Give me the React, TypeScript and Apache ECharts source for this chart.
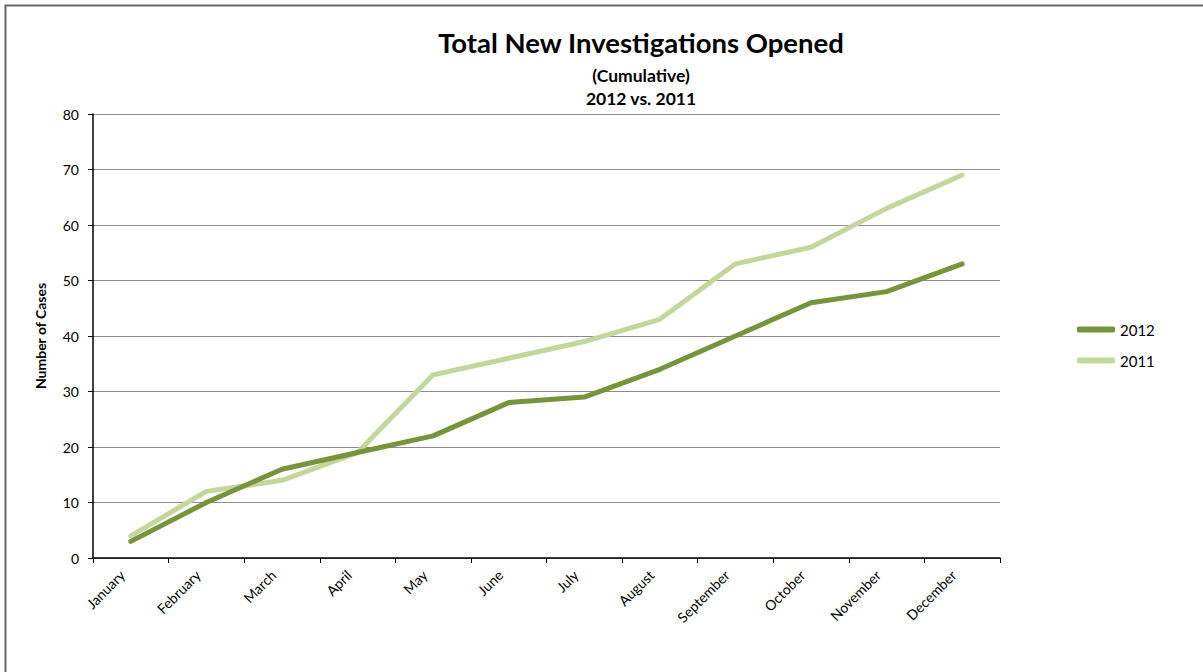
import React, { useEffect, useRef } from "react";
import * as echarts from "echarts";

const categories = [
  "January", "February", "March", "April", "May", "June",
  "July", "August", "September", "October", "November", "December",
];
const series2012 = [3, 10, 16, 19, 22, 28, 29, 34, 40, 46, 48, 53];
const series2011 = [4, 12, 14, 19, 33, 36, 39, 43, 53, 56, 63, 69];
const yTicks = { min: 0, max: 80, interval: 10 };

const FONT = "Lato, 'Open Sans', sans-serif";

export default function App() {
  const ref = useRef<HTMLDivElement>(null);
  useEffect(() => {
    document.body.style.margin = "0";
    const chart = echarts.init(ref.current!, null, { renderer: "svg" });
    chart.setOption({
      animation: false,
      textStyle: { fontFamily: FONT },
      title: [
        {
          text: "Total New Investigations Opened",
          left: 636, top: 23, textAlign: "center",
          textStyle: { fontSize: 27.5, fontWeight: "bold", color: "#000", fontFamily: FONT },
        },
        {
          text: "(Cumulative)",
          left: 636, top: 61, textAlign: "center",
          textStyle: { fontSize: 17.5, fontWeight: "bold", color: "#000", fontFamily: FONT },
        },
        {
          text: "2012 vs. 2011",
          left: 636, top: 84, textAlign: "center",
          textStyle: { fontSize: 17.5, fontWeight: "bold", color: "#000", fontFamily: FONT },
        },
      ],
      graphic: [
        {
          type: "rect",
          shape: { x: 5.5, y: 5.5, width: 1250, height: 720 },
          style: { fill: "none", stroke: "#666", lineWidth: 2 },
          silent: true,
        },
      ],
      legend: {
        orient: "vertical",
        left: 1072, top: 317,
        itemWidth: 38, itemHeight: 6, itemGap: 16,
        icon: "roundRect",
        textStyle: { fontSize: 15, color: "#000", fontFamily: FONT },
        data: ["2012", "2011"],
      },
      grid: { left: 93, right: 203, top: 114, bottom: 114, containLabel: false },
      xAxis: {
        type: "category",
        data: categories,
        boundaryGap: true,
        axisLine: { lineStyle: { color: "#000", width: 1.5 } },
        axisTick: { show: true, length: 5, alignWithLabel: false, lineStyle: { color: "#000" } },
        axisLabel: {
          rotate: 45, fontSize: 14, color: "#000", margin: 6, interval: 0,
          fontFamily: FONT, padding: [0, 12, 0, 0],
        },
      },
      yAxis: {
        type: "value",
        min: yTicks.min, max: yTicks.max, interval: yTicks.interval,
        name: "Number of Cases",
        nameLocation: "middle",
        nameGap: 46,
        nameTextStyle: { fontSize: 14, fontWeight: "bold", color: "#000", fontFamily: FONT },
        axisLine: { show: true, lineStyle: { color: "#000", width: 1.5 } },
        axisTick: { show: true, length: 5, lineStyle: { color: "#000" } },
        axisLabel: { fontSize: 14, color: "#000", margin: 14, fontFamily: FONT },
        splitLine: { lineStyle: { color: "#8c8c8c", width: 1 } },
      },
      series: [
        {
          name: "2012", type: "line", data: series2012,
          symbol: "none", lineStyle: { color: "#77933C", width: 5, cap: "round", join: "round" },
          itemStyle: { color: "#77933C" }, z: 3,
        },
        {
          name: "2011", type: "line", data: series2011,
          symbol: "none", lineStyle: { color: "#C3D69B", width: 5, cap: "round", join: "round" },
          itemStyle: { color: "#C3D69B" }, z: 2,
        },
      ],
    });
    return () => chart.dispose();
  }, []);
  return <div ref={ref} style={{ width: 1203, height: 672 }} />;
}
